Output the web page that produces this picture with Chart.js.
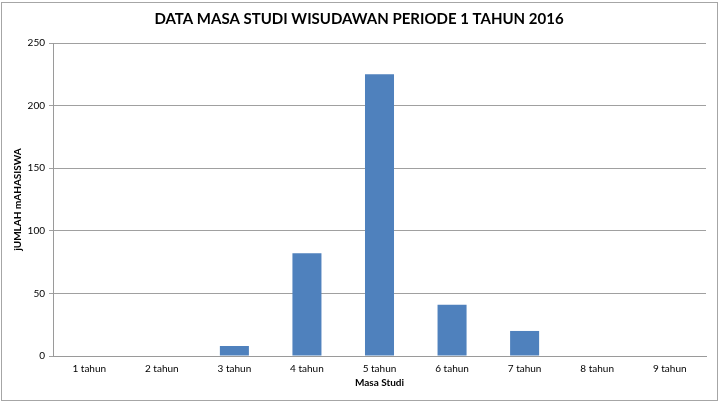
<!DOCTYPE html>
<html>
<head>
<meta charset="utf-8">
<script src="https://cdn.jsdelivr.net/npm/chart.js@4"></script>
<style>
html,body{margin:0;padding:0;background:#fff;}
#wrap{position:absolute;left:0;top:0;width:719px;height:403px;}
#frame{position:absolute;left:1px;top:2px;width:715px;height:397px;border:1px solid #a6a6a6;pointer-events:none;}
</style>
</head>
<body>
<div id="wrap"><canvas id="c" width="719" height="403"></canvas><div id="frame"></div></div>
<script>
const categories = ["1 tahun","2 tahun","3 tahun","4 tahun","5 tahun","6 tahun","7 tahun","8 tahun","9 tahun"];
const jumlah = [0,0,8,82,225,41,20,0,0];
const yTicks = [0,50,100,150,200,250];

const FONT = "Lato, 'Open Sans', sans-serif";
new Chart(document.getElementById('c'), {
  type: 'bar',
  data: {
    labels: categories,
    datasets: [{
      label: 'Jumlah',
      data: jumlah,
      backgroundColor: '#4F81BD',
      borderWidth: 0,
      categoryPercentage: 1.0,
      barPercentage: 0.4
    }]
  },
  options: {
    responsive: false,
    animation: false,
    devicePixelRatio: 1,
    layout: { padding: { left: 12, right: 13, top: 0, bottom: 14 } },
    plugins: {
      legend: { display: false },
      tooltip: { enabled: false },
      title: {
        display: true,
        text: 'DATA MASA STUDI WISUDAWAN PERIODE 1 TAHUN 2016',
        color: '#000',
        font: { family: FONT, size: 15, weight: 'bold', lineHeight: 1.2 },
        padding: { top: 10, bottom: 15 }
      }
    },
    scales: {
      x: {
        grid: { display: false, drawTicks: false },
        border: { display: true, color: '#9a9a9a', width: 1 },
        ticks: { color: '#000', font: { family: FONT, size: 10 }, padding: 7, maxRotation: 0 },
        title: { display: true, text: 'Masa Studi', color: '#000', font: { family: FONT, size: 10, weight: 'bold' }, padding: { top: 2, bottom: 0 } },
        afterFit: s => { s.height = 33; }
      },
      y: {
        min: 0, max: 250,
        afterBuildTicks: s => { s.ticks = yTicks.map(v => ({ value: v })); },
        grid: { color: '#a0a0a0', lineWidth: 1, drawTicks: true, tickLength: 4 },
        border: { display: true, color: '#9a9a9a', width: 1 },
        ticks: { color: '#000', font: { family: FONT, size: 10 }, padding: 4 },
        title: { display: true, text: 'jUMLAH mAHASISWA', color: '#000', font: { family: FONT, size: 10, weight: 'bold' }, padding: { top: 0, bottom: 6 } },
        afterFit: s => { s.width = 41; }
      }
    }
  }
});
</script>
</body>
</html>
